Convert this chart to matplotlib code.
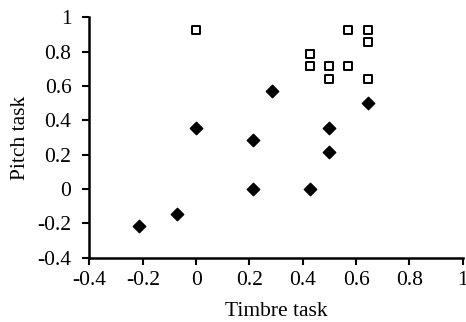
import matplotlib.pyplot as plt

plt.rcParams['font.family'] = ['Liberation Serif', 'DejaVu Serif']

# filled diamonds
dia_x = [-0.214, -0.071, 0.0, 0.214, 0.214, 0.286, 0.429, 0.5, 0.5, 0.643]
dia_y = [-0.214, -0.143, 0.357, 0.286, 0.0, 0.571, 0.0, 0.357, 0.214, 0.5]

# open squares
sq_x = [0.0, 0.429, 0.429, 0.5, 0.5, 0.571, 0.571, 0.643, 0.643, 0.643]
sq_y = [0.929, 0.786, 0.714, 0.714, 0.643, 0.929, 0.714, 0.929, 0.857, 0.643]

xticks = [-0.4, -0.2, 0, 0.2, 0.4, 0.6, 0.8, 1]
yticks = [-0.4, -0.2, 0, 0.2, 0.4, 0.6, 0.8, 1]

fig = plt.figure(figsize=(4.66, 3.22), dpi=100)
ax = fig.add_axes([0.192, 0.2, 0.801, 0.746])

ax.scatter(dia_x, dia_y, marker='D', s=40, color='black', clip_on=False, zorder=3)
ax.scatter(sq_x, sq_y, marker='s', s=36, facecolor='white', edgecolor='black',
           linewidth=1.4, clip_on=False, zorder=3)

ax.set_xlim(-0.4, 1)
ax.set_ylim(-0.4, 1)
ax.set_xticks(xticks)
ax.set_yticks(yticks)
ax.set_xticklabels([f'{t:g}' for t in xticks])
ax.set_yticklabels([f'{t:g}' for t in yticks])

for s in ['top', 'right']:
    ax.spines[s].set_visible(False)
for s in ['left', 'bottom']:
    ax.spines[s].set_linewidth(1.8)
ax.tick_params(direction='out', length=5, width=1.5, labelsize=15.5)
ax.tick_params(axis='x', pad=5)
ax.tick_params(axis='y', pad=8)

ax.set_xlabel('Timbre task', fontsize=15.5, labelpad=8)
ax.set_ylabel('Pitch task', fontsize=15.5, labelpad=5)

fig.savefig('out.png', dpi=100)
